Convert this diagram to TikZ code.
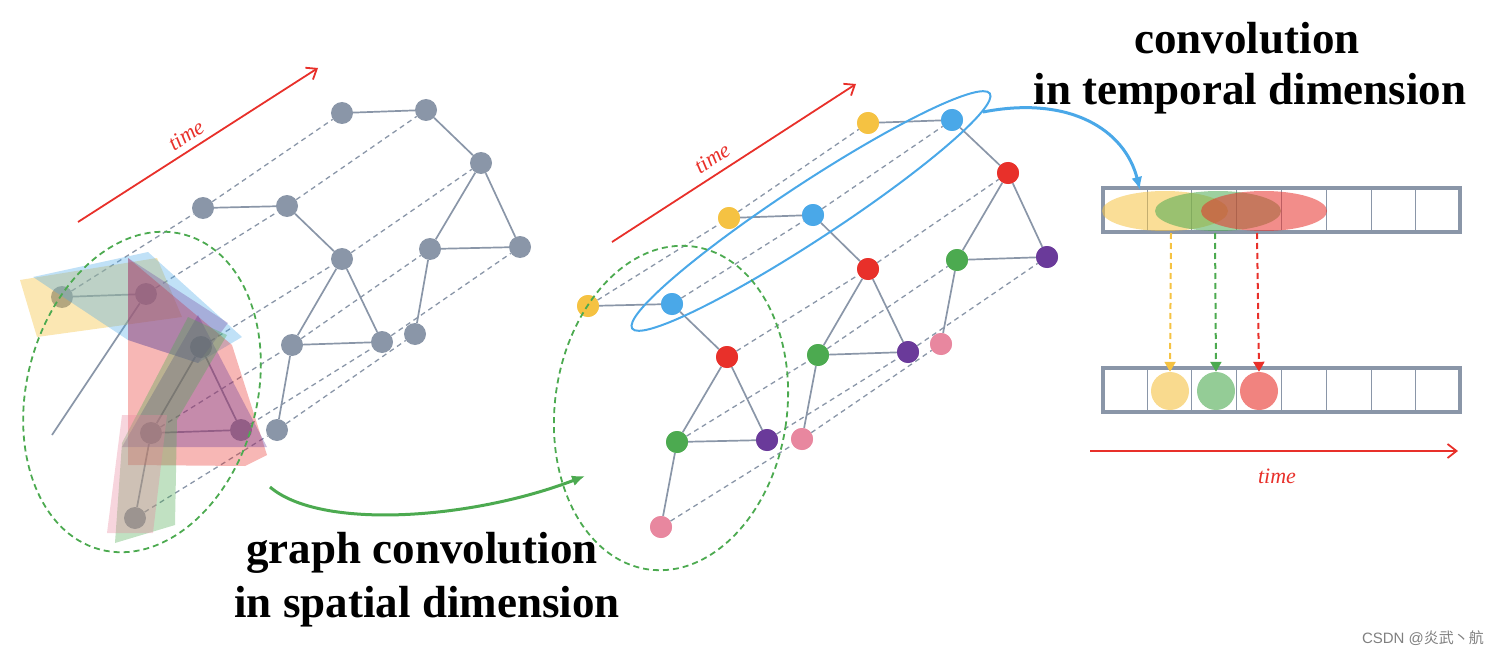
\documentclass[tikz,border=0pt]{standalone}
\usepackage{fontspec}
\setmainfont{Liberation Serif}
\newfontfamily\cjkf{Noto Sans CJK SC}
\newfontfamily\sansf{Liberation Sans}
\usetikzlibrary{arrows.meta}
\definecolor{gnode}{HTML}{8A96A8}
\definecolor{cy}{HTML}{F5C242}
\definecolor{cb}{HTML}{4AA8E8}
\definecolor{cr}{HTML}{E8302A}
\definecolor{cg}{HTML}{4CAA50}
\definecolor{cp}{HTML}{6A3A9A}
\definecolor{cpk}{HTML}{E8879F}
\definecolor{tred}{HTML}{E8302A}
\begin{document}
\begin{tikzpicture}[x=1pt,y=-1pt,
  nd/.style={circle,inner sep=0pt,minimum size=22pt},
  gn/.style={nd,fill=gnode},
  edge/.style={draw=gnode,line width=1.7pt},
  dl/.style={draw=gnode,line width=1.3pt,dash pattern=on 5pt off 4pt},
  gell/.style={draw=cg,line width=1.8pt,dash pattern=on 6pt off 4pt},
  big/.style={font=\fontsize{45}{50}\selectfont\bfseries},
  tm/.style={text=tred,font=\fontsize{22}{24}\selectfont\itshape},
  tarr/.style={draw=tred,line width=1.8pt,-{Straight Barb[length=9pt,width=14pt]}}]
\useasboundingbox (0,0) rectangle (1510,658);
% ---------- left graph ----------
\foreach \n/\x/\y in {A1/342/113,A2/426/110,A3/481/163,A4/430/249,A5/520/247,A6/415/334,
 B1/203/208,B2/287/206,B3/342/259,B4/292/345,B5/382/342,B6/277/430,
 C1/62/297,C2/146/294,C3/201/347,C4/151/433,C5/241/430,C6/135/518}
 \node[gn] (\n) at (\x,\y) {};
\coordinate (Cx) at (52,435);
\foreach \i in {1,...,6} \draw[dl] (C\i) -- (B\i) -- (A\i);
\foreach \L in {A,B} \draw[edge] (\L1)--(\L2) (\L2)--(\L3) (\L3)--(\L4) (\L3)--(\L5) (\L4)--(\L5) (\L4)--(\L6);
\draw[edge] (C1)--(C2) (C2)--(Cx) (C3)--(C4) (C3)--(C5) (C4)--(C5) (C4)--(C6);
% translucent regions
\fill[cy,opacity=0.4] (20,280)--(157,258)--(182,317)--(37,337)--cycle;
\fill[cb,opacity=0.35] (33,277)--(148,252)--(242,337)--(198,363)--(128,340)--cycle;
\fill[cr,opacity=0.35] (128,258)--(128,465)--(245,466)--(267,455)--(232,345)--(128,258)--cycle;
\fill[cp,opacity=0.3] (128,258)--(228,323)--(198,363)--(128,340)--cycle;
\fill[cp,opacity=0.35] (198,315)--(267,447)--(122,447)--cycle;
\fill[cg,opacity=0.35] (188,317)--(227,335)--(177,420)--(175,525)--(115,543)--(122,443)--cycle;
\fill[cpk,opacity=0.35] (122,415)--(167,415)--(153,533)--(107,533)--cycle;
\draw[gell,rotate around={-15:(142,392)}] (142,392) ellipse [x radius=115,y radius=163];
\draw[tarr] (78,222) -- (318,68);
\node[tm,rotate=33] at (186,135) {time};
% ---------- middle graph ----------
\foreach \n/\x/\y/\c in {D1/868/123/cy,D2/952/120/cb,D3/1008/173/cr,D4/957/260/cg,D5/1047/257/cp,D6/941/344/cpk,
 E1/729/218/cy,E2/813/215/cb,E3/868/269/cr,E4/818/355/cg,E5/908/352/cp,E6/802/439/cpk,
 F1/588/306/cy,F2/672/304/cb,F3/727/357/cr,F4/677/442/cg,F5/767/440/cp,F6/661/527/cpk}
 \node[nd,fill=\c] (\n) at (\x,\y) {};
\foreach \i in {1,...,6} \draw[dl] (F\i) -- (E\i) -- (D\i);
\foreach \L in {D,E,F} \draw[edge] (\L1)--(\L2) (\L2)--(\L3) (\L3)--(\L4) (\L3)--(\L5) (\L4)--(\L5) (\L4)--(\L6);
\foreach \L in {D,E,F} \foreach \i/\c in {1/cy,2/cb,3/cr,4/cg,5/cp,6/cpk} \node[nd,fill=\c] at (\L\i) {};
\draw[cb,line width=2pt,rotate around={33.3:(811,211)}] (811,211) ellipse [x radius=214,y radius=28];
\draw[gell,rotate around={-8:(671,408)}] (671,408) ellipse [x radius=116,y radius=163];
\draw[tarr] (612,242) -- (856,84);
\node[tm,rotate=33] at (712,158) {time};
% ---------- right boxes ----------
\node[draw=gnode,line width=4.5pt,minimum width=357pt,minimum height=44pt,inner sep=0pt] (top) at (1281.5,210) {};
\node[draw=gnode,line width=4.5pt,minimum width=357pt,minimum height=44pt,inner sep=0pt] (bot) at (1281.5,390) {};
\foreach \x in {1147,1191,1236,1281,1326,1371,1415}{
  \draw[gnode,line width=1pt] (\x,188)--(\x,232);
  \draw[gnode,line width=1pt] (\x,368)--(\x,412);}
\fill[cy,opacity=0.55] (1165,211) ellipse [x radius=63,y radius=20];
\fill[cg,opacity=0.55] (1218,211) ellipse [x radius=63,y radius=20];
\fill[cr,opacity=0.55] (1264,211) ellipse [x radius=63,y radius=20];
\node[circle,fill=cy,opacity=0.6,minimum size=38pt,inner sep=0pt] (o1) at (1170,391) {};
\node[circle,fill=cg,opacity=0.6,minimum size=38pt,inner sep=0pt] (o2) at (1216,391) {};
\node[circle,fill=cr,opacity=0.6,minimum size=38pt,inner sep=0pt] (o3) at (1259,391) {};
\coordinate (s1) at (1171,233); \coordinate (s2) at (1215,233); \coordinate (s3) at (1257,233);
\draw[cy,line width=2pt,dash pattern=on 6pt off 4pt,-{Triangle[length=10pt,width=11pt]}] (s1) -- (o1.north);
\draw[cg,line width=2pt,dash pattern=on 6pt off 4pt,-{Triangle[length=10pt,width=11pt]}] (s2) -- (o2.north);
\draw[cr,line width=2pt,dash pattern=on 6pt off 4pt,-{Triangle[length=10pt,width=11pt]}] (s3) -- (o3.north);
\coordinate (ta) at (1090,451); \coordinate (tb) at (1458,451);
\draw[tarr] (ta) -- (tb);
\node[tm] at (1277,476) {time};
% ---------- curved arrows ----------
\coordinate (g1) at (270,487); \coordinate (g2) at (585,476);
\draw[cg,line width=3pt,-{Latex[length=13pt,width=11pt]}] (g1) .. controls (320,530) and (470,520) .. (g2);
\coordinate (b1) at (983,112); \coordinate (b2) at (1140,190);
\draw[cb,line width=3pt,-{Latex[length=13pt,width=11pt]}] (b1) .. controls (1070,95) and (1125,130) .. (b2);
% ---------- texts ----------
\node[big] at (1247,38) {convolution};
\node[big] at (1250,94) {in temporal dimension};
\node[big] at (422,553) {graph convolution};
\node[big] at (427,607) {in spatial dimension};
\node[text=gray,font=\fontsize{15}{16}\selectfont] at (1423,638) {\sansf CSDN @\cjkf 炎武丶航};
\end{tikzpicture}
\end{document}
